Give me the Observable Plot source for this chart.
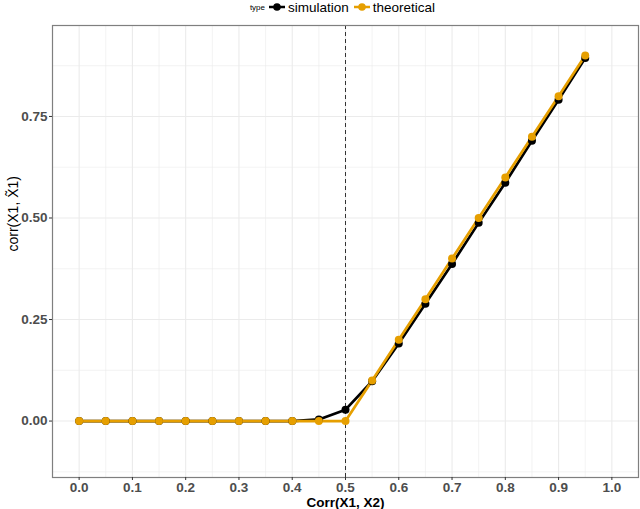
<!DOCTYPE html>
<html>
<head>
<meta charset="utf-8">
<script src="https://cdn.jsdelivr.net/npm/d3@7"></script>
<script src="https://cdn.jsdelivr.net/npm/@observablehq/plot@0.6"></script>
<style>
  body { margin: 0; background: #fff; font-family: "Liberation Sans", Arial, sans-serif; }
  #legend { height: 14px; display: flex; align-items: center; justify-content: center; padding-left: 50px; font-size: 13.5px; color: #000; }
  #legend .ttl { font-size: 8px; margin-right: 4px; }
  #legend .item { display: flex; align-items: center; margin-right: 5px; }
  #legend svg { margin-right: 3px; }
</style>
</head>
<body>
<div id="legend"></div>
<div id="chart"></div>
<script>
const corrX = [0, 0.05, 0.1, 0.15, 0.2, 0.25, 0.3, 0.35, 0.4, 0.45, 0.5, 0.55, 0.6, 0.65, 0.7, 0.75, 0.8, 0.85, 0.9, 0.95];
const simulation = [0, 0, 0, 0, 0, 0, 0, 0, 0, 0.004, 0.028, 0.098, 0.191, 0.289, 0.387, 0.488, 0.587, 0.69, 0.791, 0.894];
const theoretical = [0, 0, 0, 0, 0, 0, 0, 0, 0, 0, 0, 0.1, 0.2, 0.3, 0.4, 0.5, 0.6, 0.7, 0.8, 0.9];
const seriesNames = ["simulation", "theoretical"];
const seriesColors = ["#000000", "#E69F00"];
const xTicks = [0, 0.1, 0.2, 0.3, 0.4, 0.5, 0.6, 0.7, 0.8, 0.9, 1.0];
const xMinor = [0.05, 0.15, 0.25, 0.35, 0.45, 0.55, 0.65, 0.75, 0.85, 0.95];
const yTicks = [0, 0.25, 0.5, 0.75];
const yMinor = [-0.125, 0.125, 0.375, 0.625, 0.875];
const cutoff = 0.5;

const data = [];
corrX.forEach((x, i) => {
  data.push({x, y: simulation[i], type: "simulation"});
});
corrX.forEach((x, i) => {
  data.push({x, y: theoretical[i], type: "theoretical"});
});

// legend
const leg = document.getElementById("legend");
let html = '<span class="ttl">type</span>';
seriesNames.forEach((n, i) => {
  html += `<span class="item"><svg width="16" height="12"><line x1="0" x2="16" y1="6" y2="6" stroke="${seriesColors[i]}" stroke-width="2.5"/><circle cx="8" cy="6" r="3.8" fill="${seriesColors[i]}"/></svg>${n}</span>`;
});
leg.innerHTML = html;

const chart = Plot.plot({
  width: 640,
  height: 495,
  marginTop: 11,
  marginBottom: 32,
  marginLeft: 52,
  marginRight: 2,
  style: { fontFamily: "Liberation Sans, Arial, sans-serif", background: "#fff" },
  x: { domain: [-0.05, 1.05] },
  y: { domain: [-0.139, 0.974] },
  color: { domain: seriesNames, range: seriesColors },
  marks: [
    Plot.gridX(xMinor, { stroke: "#ebebeb", strokeOpacity: 1, strokeWidth: 0.6 }),
    Plot.gridY(yMinor, { stroke: "#ebebeb", strokeOpacity: 1, strokeWidth: 0.6 }),
    Plot.gridX(xTicks, { stroke: "#ebebeb", strokeOpacity: 1, strokeWidth: 1.1 }),
    Plot.gridY(yTicks, { stroke: "#ebebeb", strokeOpacity: 1, strokeWidth: 1.1 }),
    Plot.ruleX([cutoff], { stroke: "#333", strokeWidth: 1, strokeDasharray: "4,3" }),
    Plot.line(data, { x: "x", y: "y", z: "type", stroke: "type", strokeWidth: 2.7 }),
    Plot.dot(data, { x: "x", y: "y", fill: "type", r: 4 }),
    Plot.frame({ stroke: "#7f7f7f", strokeWidth: 1.2 }),
    Plot.axisX(xTicks, {
      tickFormat: d3.format(".1f"), tickSize: 3, tickPadding: 2, stroke: "#333",
      fontSize: 13.5, fontWeight: "bold", fill: "#4d4d4d",
      label: "Corr(X1, X2)", labelAnchor: "center", labelOffset: 29, labelArrow: "none"
    }),
    Plot.axisY(yTicks, {
      tickFormat: d3.format(".2f"), tickSize: 3, tickPadding: 2, stroke: "#333",
      fontSize: 13.5, fontWeight: "bold", fill: "#4d4d4d",
      label: null
    }),
    Plot.text(["corr(X1, X\u03031)"], {
      frameAnchor: "left", dx: -39, rotate: -90, fontSize: 14, fill: "#000"
    })
  ]
});
document.getElementById("chart").appendChild(chart);
// style axis label
chart.querySelectorAll("[aria-label='x-axis label'] text").forEach(t => {
  t.setAttribute("font-weight", "bold");
  t.setAttribute("fill", "#000");
  t.setAttribute("font-size", "13.5");
});
</script>
</body>
</html>
